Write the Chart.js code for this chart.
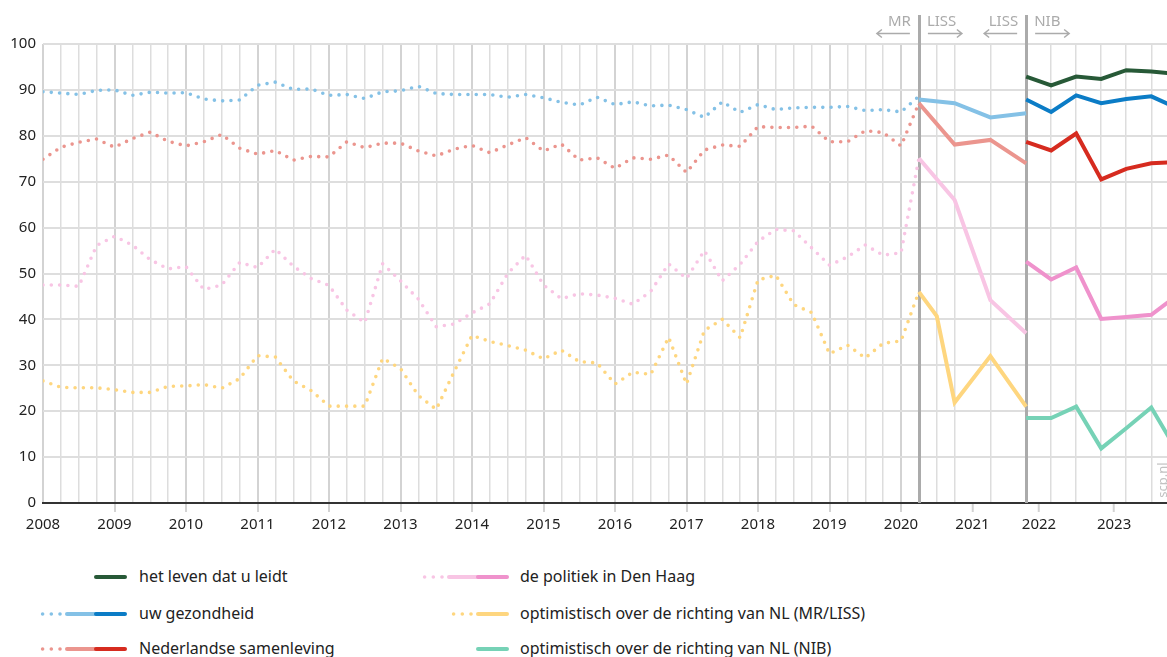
<!DOCTYPE html>
<html lang="nl">
<head>
<meta charset="utf-8">
<title>Tevredenheid en optimisme 2008-2023</title>
<script src="https://cdn.jsdelivr.net/npm/chart.js@4.4.1/dist/chart.umd.min.js"></script>
<style>
  html, body { margin: 0; padding: 0; background: #fff; overflow: hidden; width: 1167px; height: 657px; }
  body { font-family: "Noto Sans", "DejaVu Sans", sans-serif; color: #222; }
  #wrap { position: relative; width: 1167px; height: 657px; overflow: hidden; }
  #grafiek { position: absolute; left: 0; top: 0; }
  .lg-text { position: absolute; font-size: 16px; line-height: 20px; white-space: nowrap; color: #222; }
  .lg-line { position: absolute; }
</style>
</head>
<body>
<div id="wrap">
  <canvas id="grafiek" width="1167" height="545"></canvas>
</div>
<script>
// ---- data -------------------------------------------------------------------

// MR: kwartaalcijfers, 2008 Q1 t/m begin 2020 Q2 (50 metingen)
const mrX = [];
for (let q = 0; q < 50; q++) mrX.push(2008 + q / 4);

const mrGezondheid = [89.6, 89.3, 89.0, 89.9, 90.0, 88.8, 89.5, 89.3, 89.4, 88.0,
  87.6, 87.8, 91.0, 91.7, 90.1, 90.2, 88.8, 89.0, 88.1, 89.6,
  89.8, 90.8, 89.2, 89.0, 89.0, 89.0, 88.4, 89.0, 88.3, 87.3,
  86.7, 88.4, 86.8, 87.4, 86.5, 86.7, 85.7, 84.0, 87.4, 85.1,
  86.8, 85.7, 86.1, 86.2, 86.2, 86.4, 85.5, 85.7, 85.2, 88.6];

const mrSamenleving = [74.9, 77.5, 78.6, 79.3, 77.5, 79.4, 80.8, 78.8, 77.8, 78.7,
  80.3, 77.3, 76.0, 76.8, 74.7, 75.5, 75.4, 78.7, 77.4, 78.4,
  78.4, 76.7, 75.6, 77.1, 77.9, 76.3, 78.0, 79.6, 76.7, 78.2,
  74.7, 75.2, 72.9, 75.2, 74.9, 75.8, 72.0, 76.9, 78.0, 77.7,
  82.0, 81.8, 81.8, 82.1, 78.7, 78.7, 81.1, 80.7, 77.8, 87.1];

const mrPolitiek = [47.5, 47.5, 47.2, 56.1, 58.1, 56.2, 53.0, 51.0, 51.5, 46.5,
  47.5, 52.4, 51.3, 55.3, 51.6, 48.9, 47.4, 42.0, 39.3, 52.1,
  48.4, 44.4, 38.4, 39.0, 41.4, 43.4, 50.0, 54.0, 47.5, 44.5,
  45.6, 45.3, 44.6, 43.3, 46.1, 52.1, 48.9, 55.0, 48.4, 52.0,
  57.0, 59.6, 59.3, 55.6, 51.8, 53.6, 56.2, 54.0, 54.5, 75.1];

const mrRichting = [26.6, 25.2, 25.1, 25.1, 24.7, 24.1, 24.1, 25.4, 25.5, 25.8,
  25.0, 27.1, 32.1, 31.8, 26.6, 24.5, 21.1, 21.1, 21.1, 31.5,
  29.3, 23.4, 20.4, 28.6, 36.5, 35.2, 34.3, 33.3, 31.4, 33.3,
  30.8, 30.5, 25.9, 28.5, 28.0, 36.1, 25.9, 37.6, 40.0, 36.0,
  48.6, 49.6, 43.2, 41.5, 32.5, 34.4, 31.6, 34.8, 35.3, 46.0];

// LISS-metingen 2020-2021
const lissX = [2020.25, 2020.5, 2020.75, 2021.25, 2021.75];
const lissGezondheid = [87.9, null, 87.1, 84.0, 84.9];
const lissSamenleving = [87.1, null, 78.1, 79.1, 74.0];
const lissPolitiek = [75.1, null, 66.0, 44.2, 37.0];
const lissRichting = [46.0, 40.7, 21.9, 32.0, 21.0];

// NIB-metingen vanaf eind 2021
const nibX = [2021.75, 2022.1, 2022.45, 2022.8, 2023.15, 2023.5, 2023.85];
const nibLeven = [92.9, 91.0, 92.9, 92.4, 94.3, 94.0, 93.5];
const nibGezondheid = [87.9, 85.2, 88.8, 87.1, 88.0, 88.6, 86.1];
const nibSamenleving = [78.7, 76.8, 80.5, 70.5, 72.8, 74.0, 74.3];
const nibPolitiek = [52.6, 48.7, 51.3, 40.1, 40.5, 41.0, 45.1];
const nibRichting = [18.5, 18.5, 21.0, 11.9, 16.3, 20.8, 11.6];

// as-indeling
const breekLijnen = [2020.25, 2021.75];
const jaarLabels = ['2008', '2009', '2010', '2011', '2012', '2013', '2014', '2015',
  '2016', '2017', '2018', '2019', '2020', '2021', '2022', '2023'];
const jaarPosities = [2008, 2009, 2010, 2011, 2012, 2013, 2014, 2015,
  2016, 2017, 2018, 2019, 2020, 2021, 2021.93, 2022.98];
const yTicks = [0, 10, 20, 30, 40, 50, 60, 70, 80, 90, 100];

const X_MIN = 2008;
const X_MAX = 2023.72;

// ---- kleuren ------------------------------------------------------------------
const KLEUR = {
  groenDonker: '#275937',
  blauwLicht: '#84c1e6', blauw: '#0b7cc6',
  roodLicht: '#eb958e', rood: '#d62b1f',
  roseLicht: '#f8c5e4', rose: '#ef92cc',
  geelLicht: '#fed67f',
  mint: '#76d2b6',
  grijs: '#ababab'
};

// ---- datasets -----------------------------------------------------------------
function toPoints(xs, ys) {
  return xs.map((x, i) => ({ x: x, y: ys[i] }));
}

function stippel(ys, color) {
  return {
    data: toPoints(mrX, ys),
    borderColor: color,
    borderWidth: 3.6,
    borderDash: [0, 8.3],
    borderCapStyle: 'round',
    pointRadius: 0,
    tension: 0
  };
}

function lijn(xs, ys, color) {
  return {
    data: toPoints(xs, ys),
    borderColor: color,
    borderWidth: 4,
    borderJoinStyle: 'miter',
    pointRadius: 0,
    tension: 0,
    spanGaps: true
  };
}

const datasets = [
  stippel(mrGezondheid, KLEUR.blauwLicht),
  stippel(mrSamenleving, KLEUR.roodLicht),
  stippel(mrPolitiek, KLEUR.roseLicht),
  stippel(mrRichting, KLEUR.geelLicht),
  lijn(lissX, lissGezondheid, KLEUR.blauwLicht),
  lijn(lissX, lissSamenleving, KLEUR.roodLicht),
  lijn(lissX, lissPolitiek, KLEUR.roseLicht),
  lijn(lissX, lissRichting, KLEUR.geelLicht),
  lijn(nibX, nibLeven, KLEUR.groenDonker),
  lijn(nibX, nibGezondheid, KLEUR.blauw),
  lijn(nibX, nibSamenleving, KLEUR.rood),
  lijn(nibX, nibPolitiek, KLEUR.rose),
  lijn(nibX, nibRichting, KLEUR.mint)
];

// ---- x-ticks: kwartaallijnen, meetmomenten en jaarlabels --------------------
const xTicks = [];
for (let q = 0; q <= 48; q++) {
  const v = 2008 + q / 4;
  const j = jaarPosities.indexOf(v);
  xTicks.push({ value: v, kind: j >= 0 ? (q === 0 ? 'eerste' : 'jaar') : 'raster', txt: j >= 0 ? jaarLabels[j] : '' });
}
breekLijnen.forEach(v => xTicks.push({ value: v, kind: 'breuk', txt: '' }));
lissX.slice(1, -1).forEach(v => xTicks.push({ value: v, kind: 'raster', txt: '' }));
nibX.slice(1).filter(v => v < X_MAX).forEach(v => xTicks.push({ value: v, kind: 'raster', txt: '' }));
jaarPosities.forEach((v, i) => {
  if (v > 2020) xTicks.push({ value: v, kind: 'label', txt: jaarLabels[i] });
});
xTicks.sort((a, b) => a.value - b.value);

const kindOf = ctx => (ctx.tick && ctx.tick.kind) || '';

// ---- plugin: breuklijnen, bronlabels en scp.nl -------------------------------
const bronPlugin = {
  id: 'bronnen',
  beforeDatasetsDraw(chart) {
    const { ctx, chartArea, scales } = chart;
    ctx.save();
    ctx.strokeStyle = KLEUR.grijs;
    ctx.lineWidth = 3;
    breekLijnen.forEach(v => {
      const px = Math.round(scales.x.getPixelForValue(v)) + 0.5;
      ctx.beginPath();
      ctx.moveTo(px, 15);
      ctx.lineTo(px, chartArea.bottom);
      ctx.stroke();
    });
    ctx.restore();
  },
  afterDraw(chart) {
    const { ctx, scales } = chart;
    ctx.save();
    ctx.font = '15px "Noto Sans", sans-serif';
    ctx.fillStyle = KLEUR.grijs;
    ctx.strokeStyle = KLEUR.grijs;
    ctx.lineWidth = 1.5;
    ctx.textBaseline = 'middle';

    const pijl = (x1, x2) => {
      const y = 33.5;
      const dir = x2 > x1 ? 1 : -1;
      ctx.beginPath();
      ctx.moveTo(x1, y);
      ctx.lineTo(x2, y);
      ctx.moveTo(x2 - dir * 5, y - 4);
      ctx.lineTo(x2, y);
      ctx.lineTo(x2 - dir * 5, y + 4);
      ctx.stroke();
    };
    const labels = [['MR', 'LISS'], ['LISS', 'NIB']];
    breekLijnen.forEach((v, i) => {
      const px = scales.x.getPixelForValue(v);
      ctx.textAlign = 'right';
      ctx.fillText(labels[i][0], px - 8, 22);
      ctx.textAlign = 'left';
      ctx.fillText(labels[i][1], px + 8, 22);
      pijl(px - 9, px - 42);
      pijl(px + 9, px + 43);
    });

    // bronvermelding verticaal rechtsonder
    ctx.translate(1163, 480);
    ctx.rotate(-Math.PI / 2);
    ctx.font = '13px "Noto Sans", sans-serif';
    ctx.fillStyle = '#c2c2c2';
    ctx.textAlign = 'center';
    ctx.fillText('scp.nl', 0, 0);
    ctx.restore();
  }
};

// ---- grafiek ------------------------------------------------------------------
new Chart(document.getElementById('grafiek'), {
  type: 'line',
  data: { datasets: datasets },
  plugins: [bronPlugin],
  options: {
    responsive: false,
    animation: false,
    devicePixelRatio: 1,
    layout: { padding: { top: 44, right: 0, left: 0, bottom: 0 } },
    plugins: { legend: { display: false }, tooltip: { enabled: false } },
    scales: {
      x: {
        type: 'linear',
        min: X_MIN,
        max: X_MAX,
        afterBuildTicks: s => { s.ticks = xTicks.map(t => Object.assign({}, t)); },
        afterFit: s => { s.height = 42; },
        ticks: {
          autoSkip: false,
          maxRotation: 0,
          padding: 4,
          color: '#222',
          font: { family: '"Noto Sans", sans-serif', size: 15 },
          callback: (v, i, ticks) => ticks[i].txt || ''
        },
        grid: {
          color: ctx => {
            const k = kindOf(ctx);
            if (k === 'jaar' || k === 'eerste') return '#d3d3d3';
            if (k === 'raster') return '#dddddd';
            return 'rgba(0,0,0,0)';
          },
          lineWidth: ctx => (kindOf(ctx) === 'jaar' || kindOf(ctx) === 'eerste') ? 2 : 1.5,
          tickLength: 9,
          tickWidth: 2,
          tickColor: ctx => (kindOf(ctx) === 'jaar' || kindOf(ctx) === 'label') ? '#d3d3d3' : 'rgba(0,0,0,0)'
        },
        border: { display: true, color: '#333', width: 2 }
      },
      y: {
        min: 0,
        max: 100,
        afterBuildTicks: s => { s.ticks = yTicks.map(v => ({ value: v })); },
        afterFit: s => { s.width = 43; },
        ticks: {
          padding: 7,
          color: '#222',
          font: { family: '"Noto Sans", sans-serif', size: 15 }
        },
        grid: {
          color: ctx => (ctx.tick && ctx.tick.value === 0) ? 'rgba(0,0,0,0)' : '#dedede',
          lineWidth: 2,
          drawTicks: false
        },
        border: { display: false }
      }
    }
  }
});

// ---- legenda ------------------------------------------------------------------
const legendaKolommen = [{ eind: 127, tekst: 139 }, { eind: 509, tekst: 520 }];
const legendaRijen = [577, 614, 649];
const legendaItems = [
  { label: 'het leven dat u leidt', kol: 0, rij: 0, stip: null, licht: null, donker: KLEUR.groenDonker },
  { label: 'uw gezondheid', kol: 0, rij: 1, stip: KLEUR.blauwLicht, licht: KLEUR.blauwLicht, donker: KLEUR.blauw },
  { label: 'Nederlandse samenleving', kol: 0, rij: 2, stip: KLEUR.roodLicht, licht: KLEUR.roodLicht, donker: KLEUR.rood },
  { label: 'de politiek in Den Haag', kol: 1, rij: 0, stip: KLEUR.roseLicht, licht: KLEUR.roseLicht, donker: KLEUR.rose },
  { label: 'optimistisch over de richting van NL (MR/LISS)', kol: 1, rij: 1, stip: KLEUR.geelLicht, licht: KLEUR.geelLicht, donker: null },
  { label: 'optimistisch over de richting van NL (NIB)', kol: 1, rij: 2, stip: null, licht: null, donker: KLEUR.mint }
];

const wrap = document.getElementById('wrap');
const SVG_NS = 'http://www.w3.org/2000/svg';
legendaItems.forEach(item => {
  const kol = legendaKolommen[item.kol];
  const y = legendaRijen[item.rij];
  const w = 100;

  const svg = document.createElementNS(SVG_NS, 'svg');
  svg.setAttribute('width', w);
  svg.setAttribute('height', 10);
  svg.setAttribute('class', 'lg-line');
  svg.style.left = (kol.eind - w) + 'px';
  svg.style.top = (y - 5) + 'px';

  const seg = (x1, x2, color) => {
    const l = document.createElementNS(SVG_NS, 'line');
    l.setAttribute('x1', x1); l.setAttribute('x2', x2);
    l.setAttribute('y1', 5); l.setAttribute('y2', 5);
    l.setAttribute('stroke', color);
    l.setAttribute('stroke-width', 4);
    l.setAttribute('stroke-linecap', 'round');
    svg.appendChild(l);
  };
  let lichtEind = w - 2;
  if (item.donker && (item.licht || item.stip)) lichtEind = w - 31;
  let start = lichtEind;
  if (item.licht) {
    seg(lichtEind - 29, lichtEind, item.licht);
    start = lichtEind - 29;
  }
  if (item.donker) seg(item.licht ? lichtEind : w - 31, w - 2, item.donker);
  if (item.stip) {
    for (let k = 0; k < 3; k++) {
      const c = document.createElementNS(SVG_NS, 'circle');
      c.setAttribute('cx', start - 7 - k * 8.7);
      c.setAttribute('cy', 5);
      c.setAttribute('r', 1.8);
      c.setAttribute('fill', item.stip);
      svg.appendChild(c);
    }
  }
  wrap.appendChild(svg);

  const t = document.createElement('div');
  t.className = 'lg-text';
  t.style.left = kol.tekst + 'px';
  t.style.top = (y - 11) + 'px';
  t.textContent = item.label;
  wrap.appendChild(t);
});
</script>
</body>
</html>
